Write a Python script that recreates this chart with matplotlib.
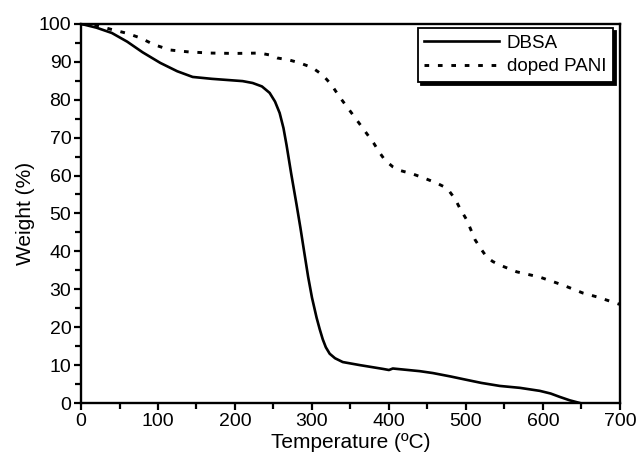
import matplotlib
matplotlib.use("Agg")
import matplotlib.pyplot as plt
from matplotlib.ticker import MultipleLocator

plt.rcParams['font.family'] = ['Liberation Sans', 'DejaVu Sans']

# TGA curves: temperature (°C) vs remaining weight (%)
dbsa_temp = [0, 20, 40, 60, 80, 103, 125, 145, 170, 190, 210, 223, 235, 245,
             252, 258, 263, 267, 273, 280, 285, 290, 295, 300, 306, 310, 314,
             318, 323, 330, 340, 362, 380, 392, 400, 405, 420, 440, 457, 480,
             501, 520, 544, 570, 596, 610, 622, 635, 648]
dbsa_weight = [100, 99.0, 97.6, 95.3, 92.5, 89.7, 87.5, 86.0, 85.5, 85.2, 84.9,
               84.4, 83.5, 81.8, 79.5, 76.5, 72.5, 68.0, 60.5, 52.3, 46.2, 39.7,
               33.3, 27.8, 22.5, 19.5, 16.8, 14.7, 13.0, 11.8, 10.8, 10.0, 9.4,
               9.0, 8.7, 9.1, 8.8, 8.4, 7.9, 7.0, 6.1, 5.3, 4.5, 4.0, 3.2, 2.5,
               1.6, 0.7, 0]

pani_temp = [0, 20, 42, 60, 77, 95, 116, 140, 168, 200, 232, 245, 255, 270,
             284, 300, 314, 325, 336, 358, 380, 388, 395, 405, 415, 431, 446,
             462, 472, 479, 486, 492, 501, 512, 520, 527, 535, 545, 566, 596,
             626, 652, 670, 691, 700]
pani_weight = [100, 99.6, 98.4, 97.5, 96.3, 94.5, 93.1, 92.6, 92.3, 92.2, 92.3,
               91.8, 91.0, 90.5, 89.7, 88.5, 86.5, 84.0, 80.7, 74.7, 68.6, 66.0,
               64.0, 62.3, 61.3, 60.4, 59.3, 58.0, 57.0, 55.7, 53.8, 51.4, 48.3,
               43.0, 40.5, 38.5, 37.3, 36.3, 34.6, 33.2, 31.1, 29.0, 28.0, 26.6,
               26.0]

fig = plt.figure(figsize=(6.4, 4.59), dpi=100)
ax = fig.add_axes([0.1266, 0.122, 0.842, 0.826])

ax.plot(dbsa_temp, dbsa_weight, color='black', lw=1.9, label='DBSA')
ax.plot(pani_temp, pani_weight, color='black', lw=2.1,
        linestyle=(0, (1.6, 3.0)), label='doped PANI')

ax.set_xlim(0, 700)
ax.set_ylim(0, 100)
ax.xaxis.set_major_locator(MultipleLocator(100))
ax.xaxis.set_minor_locator(MultipleLocator(50))
ax.yaxis.set_major_locator(MultipleLocator(10))
ax.yaxis.set_minor_locator(MultipleLocator(5))
ax.tick_params(which='major', direction='out', length=5, width=1.6,
               labelsize=14, pad=2)
ax.tick_params(which='minor', direction='out', length=4, width=1.6)
for s in ax.spines.values():
    s.set_linewidth(1.7)

ax.set_xlabel('Temperature (\u00baC)', fontsize=15, labelpad=2)
ax.set_ylabel('Weight (%)', fontsize=15, labelpad=3)

leg = ax.legend(loc='upper right', bbox_to_anchor=(0.987, 0.989),
                borderaxespad=0, fontsize=13.5, handlelength=4.0,
                fancybox=False, frameon=True, framealpha=1,
                edgecolor='black',
                shadow={'color': 'black', 'alpha': 1.0},
                borderpad=0.35, labelspacing=0.35, handletextpad=0.4)
leg.get_frame().set_linewidth(1.3)

fig.savefig('out.png', dpi=100)
